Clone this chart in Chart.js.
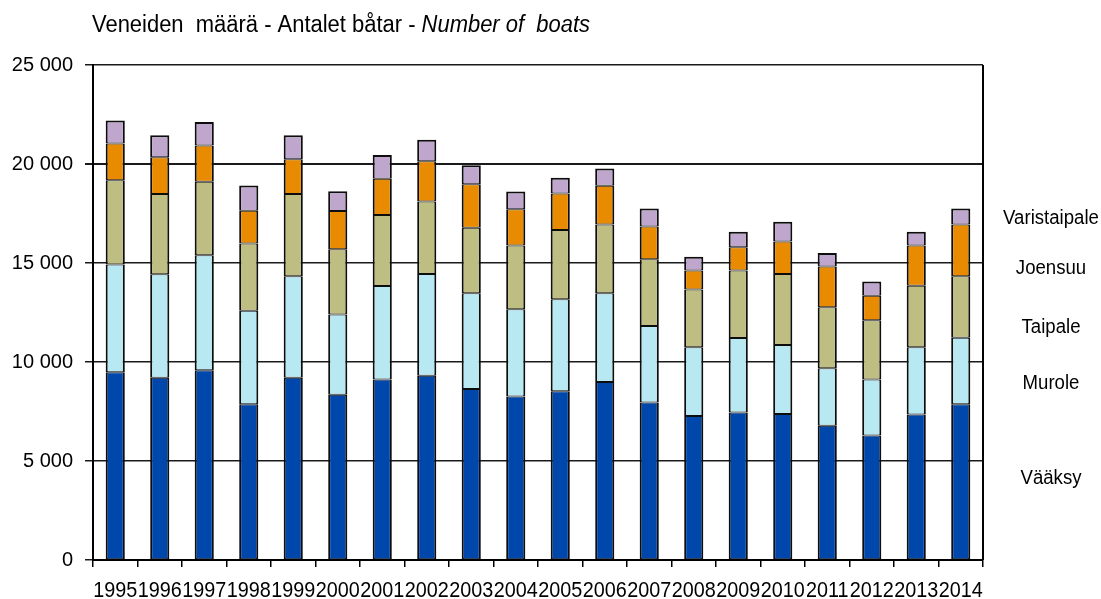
<!DOCTYPE html>
<html>
<head>
<meta charset="utf-8">
<script src="https://cdn.jsdelivr.net/npm/chart.js@4/dist/chart.umd.min.js"></script>
<style>
  html, body { margin: 0; padding: 0; background: #ffffff; }
  #wrap { width: 1101px; height: 599px; position: relative; }
</style>
</head>
<body>
<div id="wrap"><canvas id="c" width="1101" height="599"></canvas></div>
<script>
const years = ['1995','1996','1997','1998','1999','2000','2001','2002','2003','2004','2005','2006','2007','2008','2009','2010','2011','2012','2013','2014'];
const vaaksy =       [9480, 9210, 9580, 7860, 9210, 8340, 9110, 9300, 8640, 8260, 8520, 8990, 7960, 7270, 7450, 7370, 6780, 6290, 7350, 7860];
const murole =       [5440, 5220, 5810, 4730, 5120, 4060, 4730, 5150, 4830, 4410, 4650, 4480, 3860, 3470, 3760, 3490, 2900, 2820, 3390, 3370];
const taipale =      [4260, 4060, 3710, 3400, 4160, 3290, 3590, 3660, 3310, 3220, 3500, 3480, 3370, 2920, 3410, 3580, 3090, 3000, 3110, 3100];
const joensuu =      [1850, 1850, 1830, 1650, 1750, 1930, 1830, 2030, 2200, 1830, 1840, 1950, 1650,  960, 1170, 1650, 2050, 1240, 2040, 2620];
const varistaipale = [1170, 1110, 1190, 1270, 1210, 1010, 1190, 1090,  960,  890,  790,  870,  910,  700,  790,  990,  690,  710,  690,  800];
const seriesNames = ['Vääksy', 'Murole', 'Taipale', 'Joensuu', 'Varistaipale'];
const yTicks = [0, 5000, 10000, 15000, 20000, 25000];
const titleRegular = 'Veneiden  määrä - Antalet båtar - ';
const titleItalic = 'Number of  boats';

const colors = ['#0047AB', '#B8E8F1', '#BEBE82', '#E98B00', '#BFA6CC'];
const seriesData = [vaaksy, murole, taipale, joensuu, varistaipale];

const FONT = '"Liberation Sans", Arial, sans-serif';

const labelYs = [478, 383, 327, 268, 218];

const extrasPlugin = {
  id: 'extras',
  afterDraw(chart) {
    const ctx = chart.ctx;
    const a = chart.chartArea;
    ctx.save();
    // right border
    ctx.strokeStyle = '#000';
    ctx.lineWidth = 2;
    ctx.beginPath();
    ctx.moveTo(a.right, a.top);
    ctx.lineTo(a.right, a.bottom);
    ctx.stroke();
    // title
    ctx.fillStyle = '#000';
    ctx.textBaseline = 'alphabetic';
    ctx.textAlign = 'left';
    ctx.font = '23px ' + FONT;
    const w1 = ctx.measureText(titleRegular).width;
    ctx.font = 'italic 23px ' + FONT;
    const w2 = ctx.measureText(titleItalic).width;
    const sx = 498 / (w1 + w2);
    ctx.save();
    ctx.translate(92, 32);
    ctx.scale(sx, 1);
    ctx.font = '23px ' + FONT;
    ctx.fillText(titleRegular, 0, 0);
    ctx.font = 'italic 23px ' + FONT;
    ctx.fillText(titleItalic, w1, 0);
    ctx.restore();
    // x category labels (condensed)
    const xs = chart.scales.x;
    ctx.font = '22px ' + FONT;
    ctx.textAlign = 'center';
    years.forEach((y, i) => {
      const px = xs.getPixelForValue(i);
      ctx.save();
      ctx.translate(px, 597);
      ctx.scale(0.9, 1);
      ctx.fillText(y, 0, 0);
      ctx.restore();
    });
    // series labels on right
    ctx.font = '20px ' + FONT;
    ctx.textBaseline = 'middle';
    seriesNames.forEach((n, i) => {
      ctx.save();
      ctx.translate(1051, labelYs[i]);
      ctx.scale(0.93, 1);
      ctx.textAlign = 'center';
      ctx.fillText(n, 0, 0);
      ctx.restore();
    });
    ctx.restore();
  }
};

new Chart(document.getElementById('c'), {
  type: 'bar',
  data: {
    labels: years,
    datasets: seriesNames.map((n, i) => ({
      label: n,
      data: seriesData[i],
      backgroundColor: colors[i],
      borderColor: '#0d0d0d',
      borderWidth: { top: i === seriesNames.length - 1 ? 2 : 1, bottom: 1, left: 2, right: 2 },
      borderSkipped: false,
      barPercentage: 0.43,
      categoryPercentage: 1.0
    }))
  },
  options: {
    responsive: false,
    animation: false,
    devicePixelRatio: 1,
    layout: { padding: { left: 0, right: 118, top: 65, bottom: 0 } },
    plugins: {
      legend: { display: false },
      title: { display: false },
      tooltip: { enabled: false }
    },
    scales: {
      x: {
        stacked: true,
        offset: true,
        grid: {
          offset: true,
          drawOnChartArea: false,
          drawTicks: true,
          tickLength: 7,
          color: '#000',
          lineWidth: 1.5
        },
        border: { display: true, color: '#000', width: 2 },
        ticks: {
          display: false
        },
        afterFit(scale) { scale.height = 39; }
      },
      y: {
        stacked: true,
        min: 0,
        max: 25000,
        afterBuildTicks(scale) { scale.ticks = yTicks.map(v => ({ value: v })); },
        grid: {
          color: '#1a1a1a',
          lineWidth: (c) => (c.tick && c.tick.value === 20000 ? 2 : 1.5),
          tickLength: 8,
          drawTicks: true
        },
        border: { display: true, color: '#000', width: 2 },
        ticks: {
          color: '#000',
          font: { family: FONT, size: 20 },
          padding: 12,
          callback: (v) => String(v).replace(/\B(?=(\d{3})+(?!\d))/g, ' ')
        },
        afterFit(scale) { scale.width = 93; }
      }
    }
  },
  plugins: [extrasPlugin]
});
</script>
</body>
</html>
